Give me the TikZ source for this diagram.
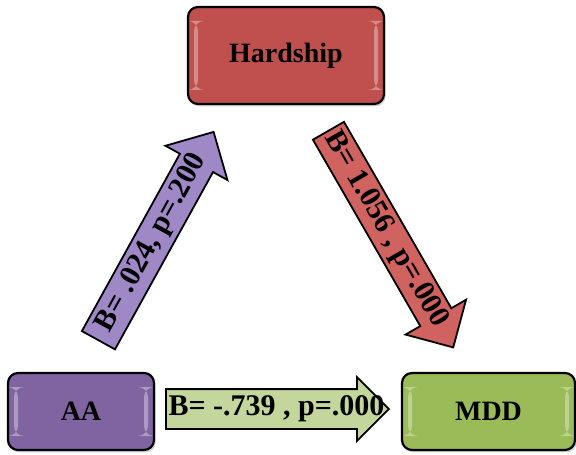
\documentclass[tikz,border=0pt]{standalone}
\usepackage{fontspec}
\setmainfont{Liberation Serif}
\usetikzlibrary{shapes, shapes.arrows, positioning, shadows}

\definecolor{hardred}{HTML}{C0504D}
\definecolor{aapurple}{HTML}{8064A2}
\definecolor{mddgreen}{HTML}{9BBB59}
\definecolor{arrpurple}{HTML}{9E89C6}
\definecolor{arrred}{HTML}{D0625F}
\definecolor{arrgreen}{HTML}{C3D69B}

\begin{document}
\begin{tikzpicture}[x=0.5pt, y=0.5pt,
		box/.style={rectangle, rounded corners=5pt, draw=black, line width=1.1pt,
			font=\fontsize{14}{16}\selectfont\bfseries,
			drop shadow={opacity=.35, shadow xshift=.8pt, shadow yshift=-1.2pt},
			path picture={
				\fill[white, opacity=.35] ([xshift=3pt, yshift=-7pt]path picture bounding box.north west) rectangle ([xshift=5pt, yshift=7pt]path picture bounding box.south west);
				\fill[white, opacity=.35] ([xshift=-3pt, yshift=-7pt]path picture bounding box.north east) rectangle ([xshift=-5pt, yshift=7pt]path picture bounding box.south east);
			}},
		blockarrow/.style={single arrow, draw=black, line width=0.9pt, anchor=tail, inner xsep=0pt,
			single arrow tip angle=90, minimum width=0pt},
		arrowtext/.style={font=\fontsize{15}{17}\selectfont\bfseries, inner sep=0pt}]
	\useasboundingbox (0,0) rectangle (576,454);

	\node (hard)[box, fill=hardred, minimum width=98pt, minimum height=48.5pt] at (286, 398.5) {Hardship};
	\node (aa)[box, fill=aapurple, minimum width=73pt, minimum height=38.5pt] at (81, 42.5) {AA};
	\node (mdd)[box, fill=mddgreen, minimum width=86.5pt, minimum height=38.5pt] at (488.5, 42.5) {MDD};

	\coordinate (aahard1) at (98, 113);
	\coordinate (aahard2) at (213, 321);
	\coordinate (hardmdd1) at (328, 324);
	\coordinate (hardmdd2) at (453, 107);
	\coordinate (aamdd1) at (165, 45);
	\coordinate (aamdd2) at (388, 45);

	\path (aahard1) -- (aahard2)
		node[pos=0, sloped, blockarrow, fill=arrpurple, minimum height=119pt, inner ysep=9pt, single arrow head extend=8.25pt] {}
		node[pos=0.47, sloped, arrowtext] {B= .024, p=.200};
	\path (hardmdd1) -- (hardmdd2)
		node[pos=0, sloped, blockarrow, fill=arrred, minimum height=125pt, inner ysep=8.5pt, single arrow head extend=8.5pt] {}
		node[pos=0.46, sloped, arrowtext] {B= 1.056 , p=.000};
	\path (aamdd1) -- (aamdd2)
		node[pos=0, sloped, blockarrow, fill=arrgreen, minimum height=111.5pt, inner ysep=9.5pt, single arrow head extend=6pt] {}
		node[pos=0.5, sloped, arrowtext] {B= -.739 , p=.000};
\end{tikzpicture}
\end{document}
